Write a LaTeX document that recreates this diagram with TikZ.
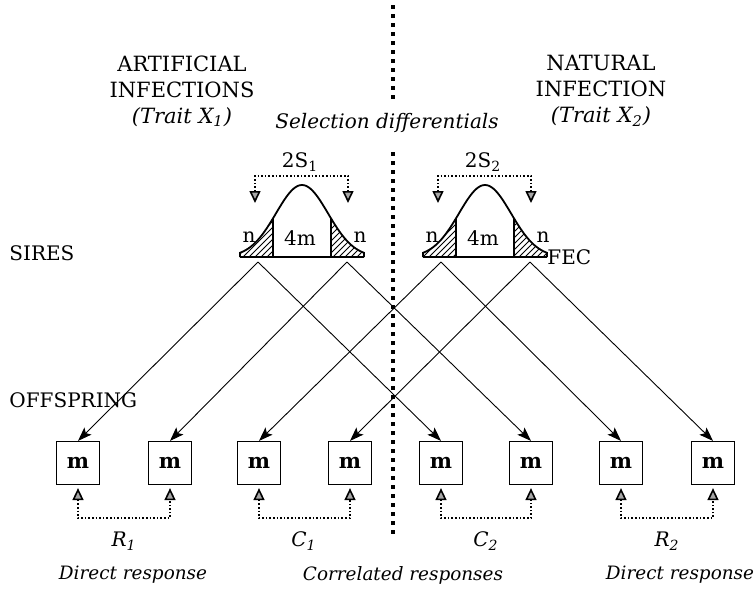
\documentclass[tikz,border=0pt]{standalone}
\usepackage{fontspec}
\setmainfont{DejaVu Serif}
\usetikzlibrary{positioning, arrows.meta, patterns, calc}

\begin{document}
\begin{tikzpicture}[x=0.5pt, y=-0.5pt,
        heading/.style={font=\fontsize{10.5}{13}\selectfont, align=center, inner sep=0pt},
        caption/.style={font=\fontsize{9.2}{11}\selectfont\itshape, inner sep=0pt},
        tag/.style={font=\fontsize{10}{12}\selectfont, inner sep=0pt},
        pen/.style={draw, line width=0.6pt, minimum size=21.5pt, inner sep=0pt, font=\fontsize{10.5}{12}\selectfont\bfseries},
        arrow/.style={-{Stealth[length=7pt, width=5pt, inset=1.5pt]}, line width=0.45pt},
        gain/.style={{Triangle[length=6pt, width=5.5pt, fill=gray!70]}-{Triangle[length=6pt, width=5.5pt, fill=gray!70]}, densely dotted, line width=0.8pt},
        divider/.style={line width=1.6pt, dash pattern=on 2.2pt off 2.3pt},
        curve/.style={line width=0.9pt}
    ]
    \useasboundingbox (0,0) rectangle (756,590);

    % Headings
    \node[heading] (art) at (182,91) {ARTIFICIAL\\INFECTIONS\\\textit{(Trait X\textsubscript{1})}};
    \node[heading] (nat) at (601,91) {NATURAL\\INFECTION\\\textit{(Trait X\textsubscript{2})}};
    \node[caption, font=\fontsize{10}{12}\selectfont\itshape] (sel) at (387,123) {Selection differentials};
    \node[tag, anchor=west] (sires) at (9,253) {SIRES};
    \node[tag, anchor=west] (off) at (9,400) {OFFSPRING};

    % Divider
    \draw[divider] (393,5) -- (393,100);
    \draw[divider] (393,152) -- (393,535);

    % Sire distributions
    \foreach \c/\k in {302/1, 485/2} {
        \fill[pattern=north east lines] (\c-62,257) -- plot[domain=-62:-29, samples=20] ({\c+\x},{257-72*exp(-(\x*\x)/1352)}) -- (\c-29,257) -- cycle;
        \fill[pattern=north east lines] (\c+29,257) -- plot[domain=29:62, samples=20] ({\c+\x},{257-72*exp(-(\x*\x)/1352)}) -- (\c+62,257) -- cycle;
        \draw[curve] (\c-62,257) -- plot[domain=-62:62, samples=61, smooth] ({\c+\x},{257-72*exp(-(\x*\x)/1352)}) -- (\c+62,257);
        \draw[line width=0.6pt] (\c-62,257) -- (\c+62,257);
        \draw[line width=0.6pt] (\c-29,257) -- (\c-29,{257-72*exp(-841/1352)});
        \draw[line width=0.6pt] (\c+29,257) -- (\c+29,{257-72*exp(-841/1352)});
        \node[tag] (nl\k) at (\c-53,237) {n};
        \node[tag] (mid\k) at (\c-2,238) {4m};
        \node[tag] (nr\k) at (\c+58,237) {n};
        \node[tag] (sd\k) at (\c-2,162) {2S\textsubscript{\k}};
        \coordinate (s\k a) at (\c-44,262);
        \coordinate (s\k b) at (\c+45,262);
        \coordinate (t\k a) at (\c-47,203);
        \coordinate (t\k b) at (\c+46,203);
        \draw[gain] (t\k a) -- ++(0,-27) -| (t\k b);
    }
    \node[tag, anchor=west] (fec) at (547,257) {FEC};

    % Offspring
    \foreach \i/\x in {1/78, 2/170, 3/259, 4/350, 5/441, 6/531, 7/621, 8/713}
        \node[pen] (b\i) at (\x,463) {m};

    % Connections
    \foreach \s/\l/\r in {1a/1/5, 1b/2/6, 2a/3/7, 2b/4/8} {
        \draw[arrow] (s\s) -- (b\l.north);
        \draw[arrow] (s\s) -- (b\r.north);
    }

    % Responses
    \foreach \a/\b in {1/2, 3/4, 5/6, 7/8}
        \draw[gain] ([yshift=-1.5pt]b\a.south) -- ++(0,30) -| ([yshift=-1.5pt]b\b.south);
    \node[tag] (r1) at (124,541) {\textit{R}\textsubscript{\textit{1}}};
    \node[tag] (c1) at (304,541) {\textit{C}\textsubscript{\textit{1}}};
    \node[tag] (c2) at (486,541) {\textit{C}\textsubscript{\textit{2}}};
    \node[tag] (r2) at (667,541) {\textit{R}\textsubscript{\textit{2}}};
    \node[caption] (dr1) at (133,575) {Direct response};
    \node[caption] (cr) at (403,575) {Correlated responses};
    \node[caption] (dr2) at (680,575) {Direct response};
\end{tikzpicture}
\end{document}
